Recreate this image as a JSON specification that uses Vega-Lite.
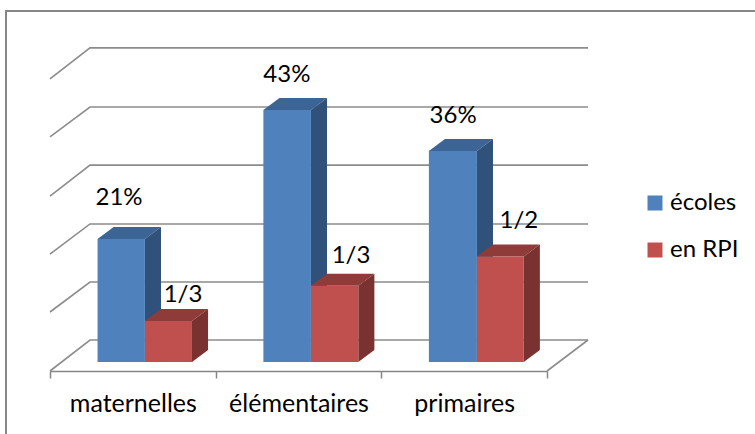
{
"$schema":"https://vega.github.io/schema/vega-lite/v6.json",
"width":497,"height":323,
"autosize":{"type":"none"},
"padding":{"left":50,"top":48,"right":208,"bottom":63},
"background":"white",
"config":{"view":{"stroke":null},"font":"Lato"},
"datasets":{
"fronts":[
{"cat":"maternelles","serie":"écoles","x0":0.287,"x1":0.573,"value":21,"zero":0},
{"cat":"maternelles","serie":"en RPI","x0":0.573,"x1":0.857,"value":7,"zero":0},
{"cat":"élémentaires","serie":"écoles","x0":1.288,"x1":1.575,"value":43,"zero":0},
{"cat":"élémentaires","serie":"en RPI","x0":1.575,"x1":1.861,"value":13,"zero":0},
{"cat":"primaires","serie":"écoles","x0":2.287,"x1":2.577,"value":36,"zero":0},
{"cat":"primaires","serie":"en RPI","x0":2.577,"x1":2.86,"value":18,"zero":0}],
"sides":[
{"id":"m","serie":"écoles","xp":0.573,"lo":0,"hi":21},{"id":"m","serie":"écoles","xp":0.67,"lo":2.05,"hi":23.05},
{"id":"e","serie":"écoles","xp":1.575,"lo":0,"hi":43},{"id":"e","serie":"écoles","xp":1.672,"lo":2.05,"hi":45.05},
{"id":"p","serie":"écoles","xp":2.577,"lo":0,"hi":36},{"id":"p","serie":"écoles","xp":2.674,"lo":2.05,"hi":38.05},
{"id":"m","serie":"en RPI","xp":0.857,"lo":0,"hi":7},{"id":"m","serie":"en RPI","xp":0.954,"lo":2.05,"hi":9.05},
{"id":"e","serie":"en RPI","xp":1.861,"lo":0,"hi":13},{"id":"e","serie":"en RPI","xp":1.958,"lo":2.05,"hi":15.05},
{"id":"p","serie":"en RPI","xp":2.86,"lo":0,"hi":18},{"id":"p","serie":"en RPI","xp":2.957,"lo":2.05,"hi":20.05}],
"tops":[
{"id":"m","serie":"écoles","yp":21,"xa":0.287,"xb":0.573},{"id":"m","serie":"écoles","yp":23.05,"xa":0.384,"xb":0.67},
{"id":"e","serie":"écoles","yp":43,"xa":1.288,"xb":1.575},{"id":"e","serie":"écoles","yp":45.05,"xa":1.385,"xb":1.672},
{"id":"p","serie":"écoles","yp":36,"xa":2.287,"xb":2.577},{"id":"p","serie":"écoles","yp":38.05,"xa":2.384,"xb":2.674},
{"id":"m","serie":"en RPI","yp":7,"xa":0.573,"xb":0.857},{"id":"m","serie":"en RPI","yp":9.05,"xa":0.67,"xb":0.954},
{"id":"e","serie":"en RPI","yp":13,"xa":1.575,"xb":1.861},{"id":"e","serie":"en RPI","yp":15.05,"xa":1.672,"xb":1.958},
{"id":"p","serie":"en RPI","yp":18,"xa":2.577,"xb":2.86},{"id":"p","serie":"en RPI","yp":20.05,"xa":2.674,"xb":2.957}],
"grid":[
{"k":"g0","gx":0,"gy":-1.54},{"k":"g0","gx":0.2414,"gy":3.75},{"k":"g0","gx":3.2475,"gy":3.75},
{"k":"g1","gx":0,"gy":8.53},{"k":"g1","gx":0.2414,"gy":13.65},{"k":"g1","gx":3.2475,"gy":13.65},
{"k":"g2","gx":0,"gy":18.4},{"k":"g2","gx":0.2414,"gy":23.55},{"k":"g2","gx":3.2475,"gy":23.55},
{"k":"g3","gx":0,"gy":28.3},{"k":"g3","gx":0.2414,"gy":33.6},{"k":"g3","gx":3.2475,"gy":33.6},
{"k":"g4","gx":0,"gy":38.4},{"k":"g4","gx":0.2414,"gy":43.5},{"k":"g4","gx":3.2475,"gy":43.5},
{"k":"g5","gx":0,"gy":48.3},{"k":"g5","gx":0.2414,"gy":53.6},{"k":"g5","gx":3.2475,"gy":53.6},
{"k":"floor","gx":3,"gy":-1.54},{"k":"floor","gx":3.2475,"gy":3.75}],
"labels":[
{"t":"21%","lx":0.4165,"ly":27.9},{"t":"1/3","lx":0.803,"ly":11.5},
{"t":"43%","lx":1.43,"ly":49},{"t":"1/3","lx":1.817,"ly":18.1},
{"t":"36%","lx":2.433,"ly":42},{"t":"1/2","lx":2.83,"ly":24.1}],
"frame":[{"o":1,"fx":-0.2656,"fy":-13},{"o":2,"fx":-0.2656,"fy":59.9},{"o":3,"fx":4.3,"fy":59.9}]
},
"layer":[
{"data":{"name":"fronts"},"mark":{"type":"rule","opacity":0},
 "encoding":{"x":{"field":"cat","type":"nominal","sort":null,"scale":{"domain":["maternelles","élémentaires","primaires"],"paddingInner":0,"paddingOuter":0},
  "axis":{"title":null,"tickBand":"extent","labelAngle":0,"domainColor":"#868686","domainWidth":1.5,"tickColor":"#868686","tickWidth":1.5,"tickSize":7,"labelFont":"Lato","labelFontSize":25,"labelColor":"#000000","labelPadding":13,"grid":false}}}},
{"layer":[
 {"data":{"name":"frame"},"mark":{"type":"line","color":"#868686","strokeWidth":2},
  "encoding":{"x":{"field":"fx","type":"quantitative","axis":null,"scale":{"domain":[0,3],"nice":false,"zero":false}},"y":{"field":"fy","type":"quantitative","axis":null,"scale":{"domain":[-1.54,53.58],"nice":false,"zero":false}},"order":{"field":"o"}}},
 {"data":{"name":"grid"},"mark":{"type":"line","color":"#8C8C8C","strokeWidth":1.6},
  "encoding":{"x":{"field":"gx","type":"quantitative","axis":null},"y":{"field":"gy","type":"quantitative","axis":null},"detail":{"field":"k"}}},
 {"data":{"name":"tops"},"transform":[{"filter":"datum.serie==='écoles'"}],"mark":{"type":"area","orient":"horizontal","color":"#3C6494"},
  "encoding":{"y":{"field":"yp","type":"quantitative","axis":null},"x":{"field":"xa","type":"quantitative","axis":null},"x2":{"field":"xb"},"detail":{"field":"id"}}},
 {"data":{"name":"sides"},"transform":[{"filter":"datum.serie==='écoles'"}],"mark":{"type":"area","orient":"vertical","color":"#30527A"},
  "encoding":{"x":{"field":"xp","type":"quantitative","axis":null},"y":{"field":"hi","type":"quantitative","axis":null},"y2":{"field":"lo"},"detail":{"field":"id"}}},
 {"data":{"name":"tops"},"transform":[{"filter":"datum.serie==='en RPI'"}],"mark":{"type":"area","orient":"horizontal","color":"#8F3B39"},
  "encoding":{"y":{"field":"yp","type":"quantitative","axis":null},"x":{"field":"xa","type":"quantitative","axis":null},"x2":{"field":"xb"},"detail":{"field":"id"}}},
 {"data":{"name":"sides"},"transform":[{"filter":"datum.serie==='en RPI'"}],"mark":{"type":"area","orient":"vertical","color":"#7A3230"},
  "encoding":{"x":{"field":"xp","type":"quantitative","axis":null},"y":{"field":"hi","type":"quantitative","axis":null},"y2":{"field":"lo"},"detail":{"field":"id"}}},
 {"data":{"name":"fronts"},"mark":{"type":"rect"},
  "encoding":{"x":{"field":"x0","type":"quantitative","axis":null},"x2":{"field":"x1"},"y":{"field":"value","type":"quantitative","axis":null},"y2":{"field":"zero"},
   "color":{"field":"serie","type":"nominal","scale":{"domain":["écoles","en RPI"],"range":["#4F81BD","#C0504D"]},
    "legend":{"title":null,"orient":"none","legendX":593,"legendY":143,"padding":0,"symbolType":"square","symbolSize":225,"symbolOpacity":1,"symbolStrokeWidth":0,"labelFont":"Lato","labelFontSize":24,"labelColor":"#000000","labelOffset":3,"rowPadding":23,"labelLimit":120}}}},
 {"data":{"name":"labels"},"mark":{"type":"text","font":"Lato","fontSize":24,"color":"#000000","baseline":"middle","align":"center"},
  "encoding":{"x":{"field":"lx","type":"quantitative","axis":null},"y":{"field":"ly","type":"quantitative","axis":null},"text":{"field":"t"}}}
]}
],
"resolve":{"scale":{"x":"independent"},"axis":{"x":"independent"}}
}
